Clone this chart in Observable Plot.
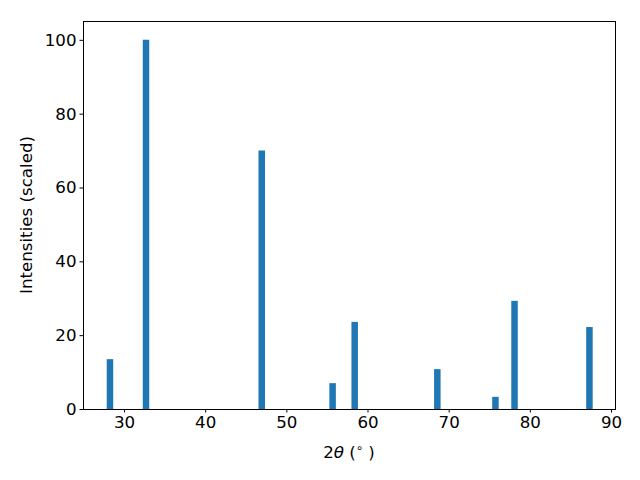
<!DOCTYPE html>
<html><head><meta charset="utf-8">
<script src="https://cdn.jsdelivr.net/npm/d3@7"></script>
<script src="https://cdn.jsdelivr.net/npm/@observablehq/plot@0.6"></script>
<style>body{margin:0;background:#fff}</style>
</head><body>
<div id="chart"></div>
<script>
const twoTheta = [28.21, 32.65, 46.91, 55.64, 58.36, 68.54, 75.70, 78.05, 87.28];
const intensity = [13.5, 100, 70, 7.0, 23.6, 10.8, 3.3, 29.3, 22.2];
const xTicks = [30, 40, 50, 60, 70, 80, 90];
const yTicks = [0, 20, 40, 60, 80, 100];

const data = twoTheta.map((x, i) => ({x, y: intensity[i]}));
const FS = 16.67;

const plot = Plot.plot({
  width: 640, height: 480,
  marginLeft: 83, marginRight: 25, marginTop: 21, marginBottom: 71,
  style: {fontFamily: "DejaVu Sans", fontSize: FS + "px", color: "#000", background: "#fff"},
  x: {domain: [24.95, 90.49], ticks: xTicks, label: null},
  y: {domain: [0, 105.1], ticks: yTicks, label: null},
  marks: [
    Plot.ruleX(data, {x: "x", y1: 0, y2: "y", stroke: "#1f77b4", strokeWidth: 6.5}),
    Plot.frame({stroke: "#000", strokeWidth: 1}),
    Plot.axisX({ticks: xTicks, tickSize: 3.5, tickPadding: 3.5, label: null, fontSize: FS}),
    Plot.axisY({ticks: yTicks, tickSize: 3.5, tickPadding: 3.5, label: null, fontSize: FS})
  ]
});
const svg = d3.select(plot);
const xl = svg.append("text").attr("x", 349).attr("y", 458)
  .attr("text-anchor", "middle").attr("font-size", FS).attr("fill", "#000");
xl.append("tspan").text("2");
xl.append("tspan").attr("font-style", "italic").text("θ");
xl.append("tspan").text(" (");
xl.append("tspan").attr("font-size", 11.7).attr("dy", -6).text("∘");
xl.append("tspan").attr("dy", 6).text(" )");
svg.append("text").attr("transform", "translate(32,215) rotate(-90)")
  .attr("text-anchor", "middle").attr("font-size", FS).attr("fill", "#000")
  .text("Intensities (scaled)");
document.getElementById("chart").appendChild(plot);
</script>
</body></html>
